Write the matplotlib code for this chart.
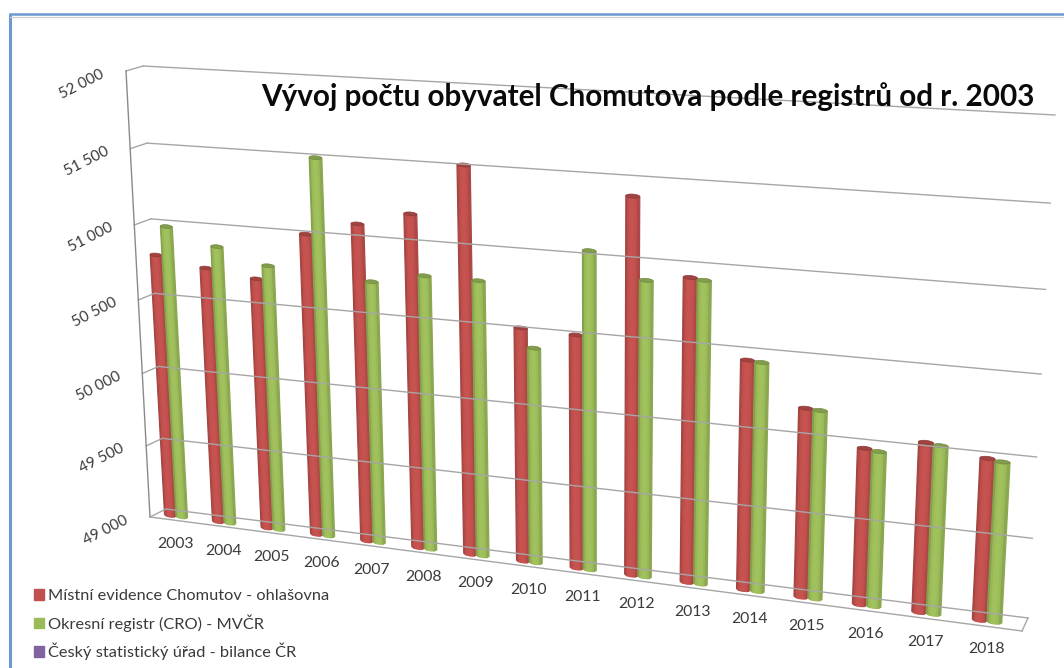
import numpy as np
import matplotlib
matplotlib.use("Agg")
import matplotlib.pyplot as plt
from matplotlib.collections import PolyCollection
from matplotlib.patches import Patch, Polygon
from matplotlib.transforms import Transform

# ---- data ----
years = [2003, 2004, 2005, 2006, 2007, 2008, 2009, 2010,
         2011, 2012, 2013, 2014, 2015, 2016, 2017, 2018]
mistni = [50790, 50732, 50690, 51010, 51102, 51192, 51522, 50528,
          50516, 51404, 50936, 50460, 50198, 49988, 50064, 50006]
okresni = [50985, 50880, 50783, 51504, 50738, 50806, 50804, 50407,
           51050, 50896, 50926, 50454, 50193, 49977, 50053, 49994]
value_ticks = [49000, 49500, 50000, 50500, 51000, 51500, 52000]
value_labels = ["49 000", "49 500", "50 000", "50 500", "51 000", "51 500", "52 000"]
legend_labels = ["Místní evidence Chomutov - ohlašovna",
                 "Okresní registr (CRO) - MVČR",
                 "Český statistický úřad - bilance ČR"]
title = "Vývoj počtu obyvatel Chomutova podle registrů od r. 2003"

# ---- style ----
RED, GREEN, PURPLE = "#C0504D", "#9BBB59", "#8064A2"
GRID = "#A6A6A6"
TXT = "#3A3A3A"
FONT = ["Lato", "DejaVu Sans"]
VMIN, VMAX = value_ticks[0], value_ticks[-1]


def homography(src, dst):
    A = []
    for (x, y), (u, v) in zip(src, dst):
        A.append([x, y, 1, 0, 0, 0, -u * x, -u * y, -u])
        A.append([0, 0, 0, x, y, 1, -v * x, -v * y, -v])
    return np.linalg.svd(np.array(A, float))[2][-1].reshape(3, 3)


class Perspective(Transform):
    """Maps (category position, value) on to one plane of the 3-D box."""
    input_dims = output_dims = 2
    has_inverse = False

    def __init__(self, src, dst):
        super().__init__()
        self.H = homography(src, dst)

    def transform_non_affine(self, values):
        values = np.asarray(values, float)
        p = np.c_[values, np.ones(len(values))] @ self.H.T
        return p[:, :2] / p[:, 2:]


fig = plt.figure(figsize=(10.64, 6.68), dpi=100)
ax = fig.add_axes([0, 0, 1, 1])
ax.set_xlim(0, 1064)
ax.set_ylim(668, 0)
ax.axis("off")

n = len(years)
corner_units = [(0, VMIN), (n, VMIN), (0, VMAX), (n, VMAX)]
back = Perspective(corner_units, [(166, 509), (1028, 618), (143, 66), (1055, 115)])
front = Perspective(corner_units, [(150, 517), (1022, 631), (126, 71), (1049, 125)])
bars = Perspective([(.5, VMIN), (n - .5, VMIN), (.5, VMAX), (n - .5, VMAX)],
                   [(176, 516), (987, 621), (152, 69.4), (1012, 117.7)])

# window frame
ax.plot([10, 10], [14, 668], color="#6C99D0", lw=2.2, solid_capstyle="butt")
ax.plot([10, 1064], [14, 14], color="#6C99D0", lw=1.8)
ax.plot([10, 1064], [17, 17], color="#CFCFCF", lw=0.9)

# walls and floor
for v in value_ticks:
    ax.plot([0, n], [v, v], color=GRID, lw=1.0, transform=back + ax.transData)
    a = front.transform([(0, v)])[0]
    b = back.transform([(0, v)])[0]
    ax.plot([a[0], b[0]], [a[1], b[1]], color=GRID, lw=1.0)
ax.plot([0, 0], [VMIN, VMAX], color="#8A8A8A", lw=1.0, transform=front + ax.transData)
ax.plot([0, n], [VMIN, VMIN], color=GRID, lw=1.0, transform=front + ax.transData)
a = front.transform([(n, VMIN)])[0]
b = back.transform([(n, VMIN)])[0]
ax.plot([a[0], b[0]], [a[1], b[1]], color=GRID, lw=1.0)


def cylinder(center, value, colour, width=0.24, strips=7, cap=12):
    base = np.array(matplotlib.colors.to_rgb(colour))
    polys, cols = [], []
    edges = np.linspace(-1, 1, strips + 1)
    curve = lambda s: cap * np.sqrt(np.clip(1 - s * s, 0, 1))
    for s0, s1 in zip(edges[:-1], edges[1:]):
        u0 = center + s0 * width / 2
        u1 = center + s1 * width / 2
        polys.append(bars.transform([(u0, VMIN - curve(s0)), (u1, VMIN - curve(s1)),
                                     (u1, value), (u0, value)]))
        m = (s0 + s1) / 2
        light = np.sqrt(1 - m * m)
        shade = 0.6 + 0.44 * light ** 0.6
        if m < 0:
            shade -= 0.06 * abs(m) ** 3
        cols.append(np.clip(base * shade, 0, 1))
    ax.add_collection(PolyCollection(polys, facecolors=cols, edgecolors=cols, linewidths=0.9))
    t = np.linspace(0, 2 * np.pi, 40)
    ring = bars.transform(np.c_[center + np.cos(t) * width / 2, value + cap * np.sin(t)])
    ax.add_patch(Polygon(ring, closed=True, facecolor=np.clip(base * 0.84, 0, 1),
                         edgecolor=np.clip(base * 0.74, 0, 1), lw=0.5))


for i, (r, g) in enumerate(zip(mistni, okresni)):
    cylinder(i + 0.5 - 0.12, r, RED)
    cylinder(i + 0.5 + 0.12, g, GREEN)

# category labels
for i, y in enumerate(years):
    ax.annotate(str(y), xy=(i + 0.5, VMIN), xycoords=bars + ax.transData, xytext=(-1, -28.5),
                textcoords="offset pixels", ha="center", va="center",
                fontsize=11.3, color=TXT, family=FONT)

# value labels
for v, s in zip(value_ticks, value_labels):
    ax.annotate(s, xy=(0, v), xycoords=front + ax.transData, xytext=(-44, -13),
                textcoords="offset pixels", ha="center", va="center",
                rotation=27, rotation_mode="anchor",
                fontsize=11, color=TXT, family=FONT)

ax.text(648, 97, title, ha="center", va="center", fontsize=21.3,
        fontweight="bold", color="#0A0A0A", family=FONT)

handles = [Patch(color=c) for c in (RED, GREEN, PURPLE)]
ax.legend(handles, legend_labels, loc="upper left", bbox_to_anchor=(0.032, 0.118),
          frameon=False, handlelength=0.6, handleheight=0.6, handletextpad=0.28,
          labelspacing=0.68, borderpad=0, borderaxespad=0,
          labelcolor=TXT, prop={"family": FONT, "size": 11.8})

fig.savefig("out.png", dpi=100)
